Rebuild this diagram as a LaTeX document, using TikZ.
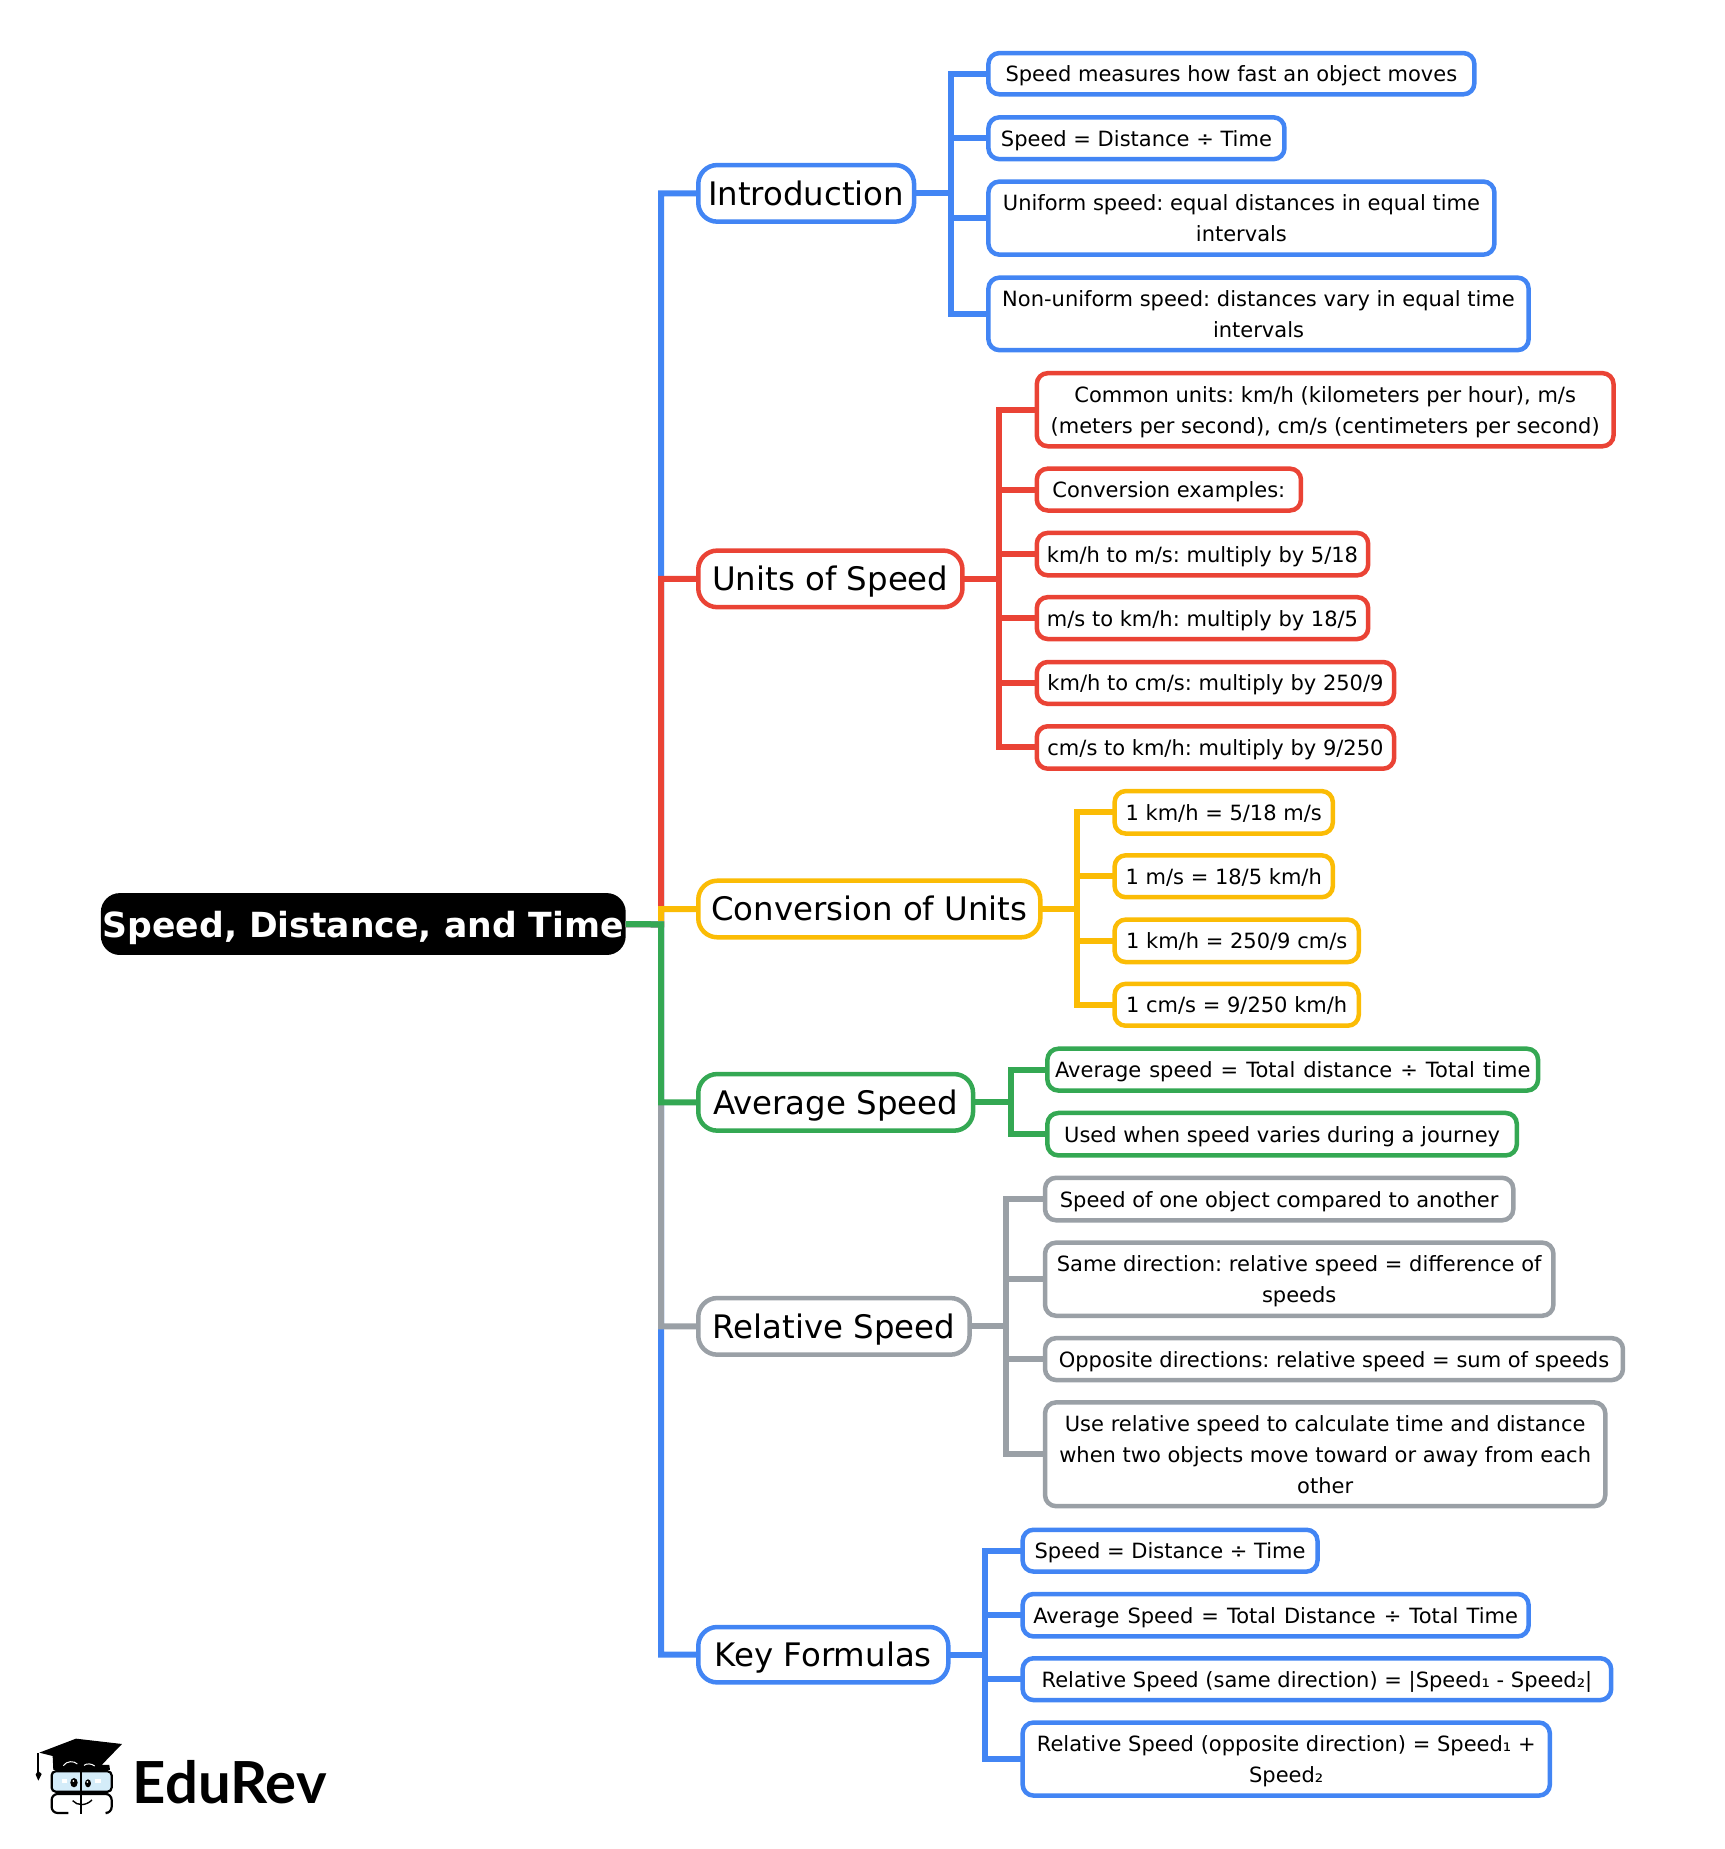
\documentclass[tikz,border=0pt]{standalone}
\usepackage{fontspec}
\setmainfont{DejaVu Sans}
\newfontfamily\logofont{Lato}
\frenchspacing
\definecolor{cblue}{HTML}{4285F4}
\definecolor{cred}{HTML}{EA4335}
\definecolor{cyel}{HTML}{FBBC05}
\definecolor{cgrn}{HTML}{34A853}
\definecolor{cgry}{HTML}{9AA0A6}
\definecolor{cglass}{HTML}{D4ECF9}
\newcommand{\widewords}{\spaceskip=8pt plus 1pt\relax}
\tikzset{
  basebox/.style={rectangle,fill=white,inner sep=0pt,outer sep=0pt,align=center,text=black},
  leafbox/.style={basebox,line width=4.5pt,rounded corners=11pt,font=\fontsize{21}{31.3}\selectfont\def\sst{\rule[-7.6pt]{0pt}{31.3pt}}},
  midbox/.style={basebox,line width=4.5pt,rounded corners=19pt,font=\fontsize{32.4}{40}\selectfont\def\sst{\rule[-8.1pt]{0pt}{40pt}}},
  rootbox/.style={rectangle,fill=black,text=white,inner sep=0pt,outer sep=0pt,rounded corners=19pt,font=\fontsize{34.6}{44}\bfseries\selectfont\def\sst{\rule[-8.5pt]{0pt}{44pt}}},
  link/.style={line width=6pt,line join=miter,line cap=butt}
}
\newcommand{\bx}[7]{%
  \pgfmathsetmacro\bxw{(#5-#3)*1.1795}%
  \pgfmathsetmacro\bxh{(#6-#4)*1.179}%
  \node[#2,minimum width=\bxw pt,minimum height=\bxh pt] (#1) at ({(#3+#5)/2},{(#4+#6)/2}) {#7};}
\begin{document}
\begin{tikzpicture}[x=1.1795pt,y=-1.179pt]
\useasboundingbox (0,0) rectangle (1462.5,1568.3);
% root and branches
\bx{root}{rootbox}{85.5}{757.5}{530.5}{810}{\sst Speed, Distance, and Time}
\bx{intro}{midbox,draw=cblue}{592}{140}{775}{188}{\sst Introduction}
\bx{units}{midbox,draw=cred}{592}{467}{816}{515}{\sst Units of Speed}
\bx{conv}{midbox,draw=cyel}{592}{747}{882}{795}{\sst Conversion of Units}
\bx{avg}{midbox,draw=cgrn}{592}{911}{825}{959}{\sst Average Speed}
\bx{rel}{midbox,draw=cgry}{592}{1101}{822}{1149}{\sst Relative Speed}
\bx{key}{midbox,draw=cblue}{592}{1380}{804}{1427}{\sst Key Formulas}
% leaves
\bx{a1}{leafbox,draw=cblue}{838}{45}{1250}{80}{\sst Speed measures how fast an object moves}
\bx{a2}{leafbox,draw=cblue}{838}{99.5}{1089}{135}{\sst Speed = Distance ÷ Time}
\bx{a3}{leafbox,draw=cblue}{838}{154}{1267}{216}{\sst Uniform speed: equal distances in equal time\\\sst intervals}
\bx{a4}{leafbox,draw=cblue}{838}{235.5}{1296}{297}{\sst Non-uniform speed: distances vary in equal time\\\sst intervals}
\bx{b1}{leafbox,draw=cred}{879}{316.5}{1368}{378.5}{\sst Common units: km/h (kilometers per hour), m/s\\\sst (meters per second), cm/s (centimeters per second)}
\bx{b2}{leafbox,draw=cred}{879}{397.5}{1103}{433}{\sst Conversion examples:}
\bx{b3}{leafbox,draw=cred}{879}{452}{1160}{488}{\sst km/h to m/s: multiply by 5/18}
\bx{b4}{leafbox,draw=cred}{879}{506.5}{1160}{542}{\sst m/s to km/h: multiply by 18/5}
\bx{b5}{leafbox,draw=cred}{879}{561.5}{1182}{597}{\sst km/h to cm/s: multiply by 250/9}
\bx{b6}{leafbox,draw=cred}{879}{616}{1182}{652}{\sst cm/s to km/h: multiply by 9/250}
\bx{c1}{leafbox,draw=cyel}{945}{671}{1130}{707}{\sst 1 km/h = 5/18 m/s}
\bx{c2}{leafbox,draw=cyel}{945}{725.5}{1130}{761}{\sst 1 m/s = 18/5 km/h}
\bx{c3}{leafbox,draw=cyel}{945}{780}{1152}{816}{\sst 1 km/h = 250/9 cm/s}
\bx{c4}{leafbox,draw=cyel}{945}{834.5}{1152}{870}{\sst 1 cm/s = 9/250 km/h}
\bx{d1}{leafbox,draw=cgrn}{888}{889.5}{1304}{925}{\widewords\sst Average speed = Total distance ÷ Total time}
\bx{d2}{leafbox,draw=cgrn}{888}{944}{1286}{980}{\sst Used when speed varies during a journey}
\bx{e1}{leafbox,draw=cgry}{886}{999}{1283}{1035}{\sst Speed of one object compared to another}
\bx{e2}{leafbox,draw=cgry}{886}{1054}{1317}{1116}{\sst Same direction: relative speed = difference of\\\sst speeds}
\bx{e3}{leafbox,draw=cgry}{886}{1135}{1376}{1170.5}{\sst Opposite directions: relative speed = sum of speeds}
\bx{e4}{leafbox,draw=cgry}{886}{1189.5}{1361}{1277.5}{\sst Use relative speed to calculate time and distance\\\sst when two objects move toward or away from each\\\sst other}
\bx{f1}{leafbox,draw=cblue}{867}{1297.5}{1117}{1333}{\sst Speed = Distance ÷ Time}
\bx{f2}{leafbox,draw=cblue}{867}{1352}{1296}{1388}{\widewords\sst Average Speed = Total Distance ÷ Total Time}
\bx{f3}{leafbox,draw=cblue}{867}{1406.5}{1366}{1442}{\sst Relative Speed (same direction) = |Speed₁ - Speed₂|}
\bx{f4}{leafbox,draw=cblue}{867}{1461}{1314}{1523}{\sst Relative Speed (opposite direction) = Speed₁ +\\\sst Speed₂}
% junction points
\coordinate (trunk) at (560.5,784);
\coordinate (jintro) at (806,164);
\coordinate (junits) at (847,491);
\coordinate (jconv) at (913,771);
\coordinate (javg) at (857,935);
\coordinate (jrel) at (853,1125);
\coordinate (jkey) at (835,1403.5);
% connectors, in the reference's stacking order
\foreach \n/\c in {intro/cblue,units/cred,conv/cyel,key/cblue,rel/cgry,avg/cgrn}
  \draw[link,draw=\c] (root.east) -- (trunk) |- (\n.west);
\foreach \l in {a1,a2,a3,a4} \draw[link,draw=cblue] (intro.east) -- (jintro) |- (\l.west);
\foreach \l in {b1,b2,b3,b4,b5,b6} \draw[link,draw=cred] (units.east) -- (junits) |- (\l.west);
\foreach \l in {c1,c2,c3,c4} \draw[link,draw=cyel] (conv.east) -- (jconv) |- (\l.west);
\foreach \l in {d1,d2} \draw[link,draw=cgrn] (avg.east) -- (javg) |- (\l.west);
\foreach \l in {e1,e2,e3,e4} \draw[link,draw=cgry] (rel.east) -- (jrel) |- (\l.west);
\foreach \l in {f1,f2,f3,f4} \draw[link,draw=cblue] (key.east) -- (jkey) |- (\l.west);
% logo
\node[anchor=base west,inner sep=0pt,font=\logofont\fontsize{58}{60}\bfseries\selectfont] (logotext) at (112.5,1529.7) {EduRev};
\begin{scope}[shift={(0,1399.5)},x=0.3333pt,y=-0.3333pt]
  \fill[black] (118,308) -- (228,266) -- (366,282) -- (305,345) -- (328,345) -- (330,360) -- (160,360) -- (158,318) -- cycle;
  \draw[black,line width=1.2pt] (114,310) -- (114,365);
  \fill[black] (114,362) -- (107,374) -- (115,392) -- (125,372) -- cycle;
  \draw[white,line width=1pt] (190,347) .. controls (200,332) and (222,332) .. (232,342);
  \draw[white,line width=1pt] (252,346) .. controls (260,340) and (274,340) .. (284,348);
  \draw[black,line width=2.2pt,fill=cglass,rounded corners=4pt] (155,364) rectangle (335,425);
  \draw[black,line width=2.2pt,rounded corners=6pt] (205,489) -- (155,489) -- (155,432) -- (335,432) -- (335,489) -- (322,489);
  \draw[black,line width=2.2pt] (243,355) -- (243,493);
  \fill[white] (187,388) rectangle (201,400);
  \fill[white] (286,388) rectangle (302,400);
  \fill[black] (222,398) ellipse [x radius=11,y radius=14];
  \fill[black] (264,400) ellipse [x radius=9,y radius=12];
  \fill[white] (220,393) circle [radius=3];
  \fill[white] (262,396) circle [radius=3];
  \draw[black,line width=1.4pt] (218,452) .. controls (232,468) and (258,468) .. (276,450);
\end{scope}
\end{tikzpicture}
\end{document}
